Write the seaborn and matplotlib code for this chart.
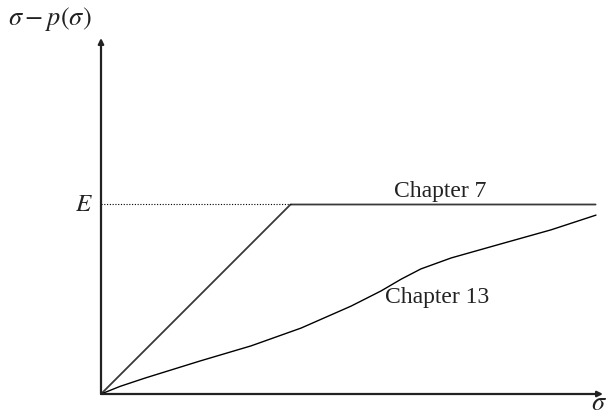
import matplotlib
matplotlib.use("Agg")
import matplotlib.pyplot as plt
import seaborn as sns
import pandas as pd

# Data (sigma in the same units as E)
E = 5.0
sigma_ch7 = [0.0, 5.0, 13.05]
value_ch7 = [0.0, 5.0, 5.0]

sigma_ch13 = [0.0, 0.50, 1.16, 2.61, 3.96, 5.28, 6.60, 7.39, 7.92, 8.44, 9.24, 10.55, 11.87, 13.06]
value_ch13 = [0.0, 0.20, 0.42, 0.87, 1.27, 1.74, 2.32, 2.72, 3.03, 3.30, 3.59, 3.96, 4.33, 4.72]

label_ch7 = "Chapter 7"
label_ch13 = "Chapter 13"
y_label = r"$\sigma - p(\sigma)$"
x_label = r"$\sigma$"
e_label = r"$E$"

sns.set_style("white")
plt.rcParams["font.family"] = ["Liberation Serif", "DejaVu Serif"]
plt.rcParams["mathtext.fontset"] = "stix"

W, H = 606, 415
fig = plt.figure(figsize=(W / 100, H / 100), dpi=100)
scale = 37.9  # pixels per unit
x0, y0 = 101, 394
ax = fig.add_axes([x0 / W, (H - y0) / H, 500 / W, 354 / H])
ax.set_xlim(0, 500 / scale)
ax.set_ylim(0, 354 / scale)
for s in ax.spines.values():
    s.set_visible(False)

df7 = pd.DataFrame({"sigma": sigma_ch7, "v": value_ch7})
df13 = pd.DataFrame({"sigma": sigma_ch13, "v": value_ch13})
sns.lineplot(data=df7, x="sigma", y="v", ax=ax, color="#3a3a3a", lw=1.3,
             sort=False, estimator=None)
sns.lineplot(data=df13, x="sigma", y="v", ax=ax, color="black", lw=1.0,
             sort=False, estimator=None)
ax.set_xlabel("")
ax.set_ylabel("")
ax.set_xticks([])
ax.set_yticks([])

# Dotted guide for E
ax.plot([0, E], [E, E], color="black", lw=0.8, ls=(0, (1, 1.5)))

# Axes with arrowheads
xmax = 502 / scale
ymax = 356 / scale
ax.annotate("", xy=(xmax, 0), xytext=(0, 0), annotation_clip=False,
            arrowprops=dict(arrowstyle="-|>", color="#222222", lw=1.6,
                            mutation_scale=8, shrinkA=0, shrinkB=0))
ax.annotate("", xy=(0, ymax), xytext=(0, 0), annotation_clip=False,
            arrowprops=dict(arrowstyle="-|>", color="#222222", lw=1.6,
                            mutation_scale=8, shrinkA=0, shrinkB=0))

fs = 17
ax.text((394 - x0) / scale, (y0 - 197) / scale, label_ch7, fontsize=fs,
        ha="left", va="baseline", color="#222222")
ax.text((385 - x0) / scale, (y0 - 303) / scale, label_ch13, fontsize=fs,
        ha="left", va="baseline", color="#222222")

def fig_xy(px, py):
    return px / W, 1 - py / H

fig.text(*fig_xy(8, 25), y_label, fontsize=19, ha="left", va="baseline", color="#222222")
fig.text(*fig_xy(93, 211), e_label, fontsize=18, ha="right", va="baseline", color="#222222")
fig.text(*fig_xy(591, 410), x_label, fontsize=19, ha="left", va="baseline", color="#222222")

fig.savefig("out.png", dpi=100)
